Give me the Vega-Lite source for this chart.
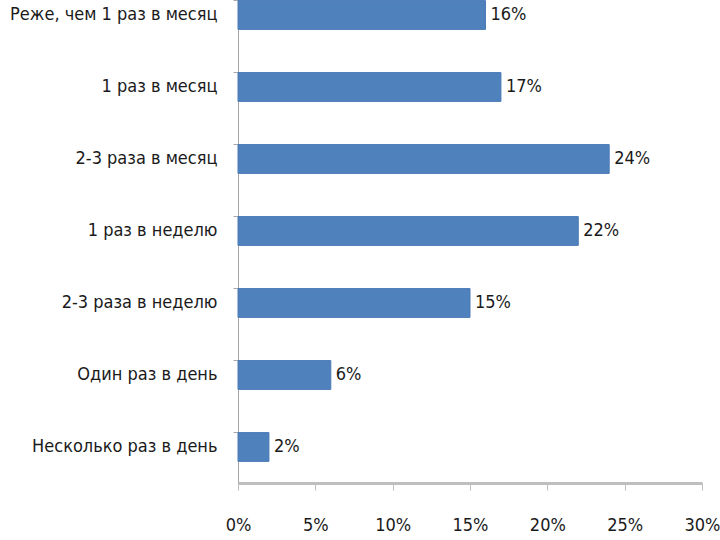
{
  "$schema": "https://vega.github.io/schema/vega-lite/v6.json",
  "width": 464,
  "height": 504,
  "autosize": {"type": "none"},
  "padding": {"left": 238, "top": -21, "right": 18, "bottom": 57},
  "background": "white",
  "config": {"view": {"stroke": null}, "font": "DejaVu Sans Condensed, sans-serif"},
  "data": {"values": [
    {"cat": "Реже, чем 1 раз в месяц", "v": 0.16, "lbl": "16%"},
    {"cat": "1 раз в месяц", "v": 0.17, "lbl": "17%"},
    {"cat": "2-3 раза в месяц", "v": 0.24, "lbl": "24%"},
    {"cat": "1 раз в неделю", "v": 0.22, "lbl": "22%"},
    {"cat": "2-3 раза в неделю", "v": 0.15, "lbl": "15%"},
    {"cat": "Один раз в день", "v": 0.06, "lbl": "6%"},
    {"cat": "Несколько раз в день", "v": 0.02, "lbl": "2%"}
  ]},
  "encoding": {
    "y": {"field": "cat", "type": "nominal", "sort": null,
      "scale": {"paddingInner": 0.6, "paddingOuter": 0.3},
      "axis": {"title": null, "domain": true, "domainColor": "#a6a6a6", "domainWidth": 1,
        "ticks": true, "tickColor": "#a6a6a6", "tickSize": 5, "bandPosition": 0,
        "labelFontSize": 18, "labelColor": "#1a1a1a", "labelPadding": 16, "labelLimit": 300}},
    "x": {"field": "v", "type": "quantitative",
      "scale": {"domain": [0, 0.3]},
      "axis": {"title": null, "format": "%", "values": [0, 0.05, 0.1, 0.15, 0.2, 0.25, 0.3],
        "grid": false, "domainColor": "#bfbfbf", "domainWidth": 3, "tickColor": "#bfbfbf",
        "tickSize": 7, "tickWidth": 1, "labelFlush": false, "labelFontSize": 18, "labelColor": "#1a1a1a", "labelPadding": 26}}
  },
  "layer": [
    {"mark": {"type": "bar", "color": "#4f81bd", "stroke": "#4a7ab5", "strokeWidth": 1}},
    {"mark": {"type": "text", "align": "left", "dx": 5, "fontSize": 18, "color": "#1a1a1a"},
     "encoding": {"text": {"field": "lbl"}}}
  ]
}
